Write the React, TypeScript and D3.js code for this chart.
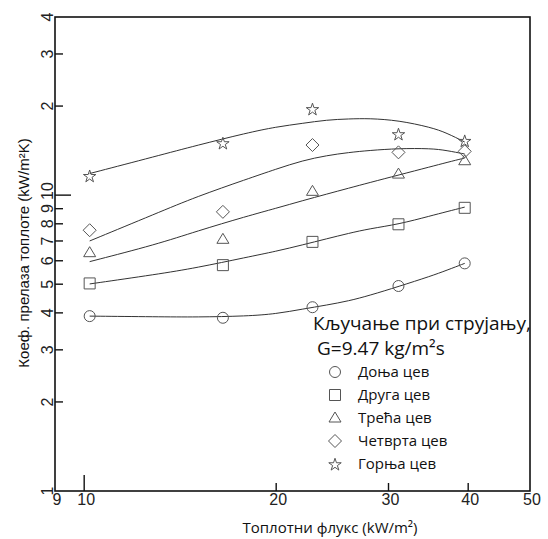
import React from "react";
import * as d3 from "d3";

// ---- data ----
const xFlux = [10.2, 16.5, 22.8, 31.1, 39.5];
const lowerTube = [3.9, 3.85, 4.18, 4.93, 5.88];
const secondTube = [5.03, 5.8, 6.95, 7.97, 9.06];
const thirdTube = [6.39, 7.09, 10.3, 11.78, 13.07];
const fourthTube = [7.61, 8.78, 14.77, 13.95, 14.06];
const upperTube = [11.63, 15.01, 19.57, 16.1, 15.28];

// fitted trend curves
const fitX = [10.2, 13, 15, 18, 20, 22, 24, 26, 28, 31.1, 35, 37, 39.5];
const lowerFit = [3.9, 3.88, 3.87, 3.9, 3.97, 4.12, 4.25, 4.39, 4.58, 4.91, 5.33, 5.57, 5.88];
const secondFit = [5.01, 5.4, 5.68, 6.17, 6.46, 6.79, 7.12, 7.43, 7.7, 7.97, 8.52, 8.79, 9.11];
const thirdFit = [5.96, 6.82, 7.55, 8.49, 9.03, 9.58, 10.08, 10.56, 11.02, 11.69, 12.49, 12.89, 13.35];
const fourthFit = [7.0, 8.69, 9.88, 11.33, 12.25, 13.09, 13.61, 13.94, 14.16, 14.38, 14.38, 14.16, 13.77];
const upperFit = [11.83, 13.56, 14.72, 16.23, 17.01, 17.48, 17.96, 18.1, 18.17, 17.89, 16.94, 16.23, 15.12];

const seriesNames = ["Доња цев", "Друга цев", "Трећа цев", "Четврта цев", "Горња цев"];
const seriesShapes = ["circle", "square", "triangle", "diamond", "star"];

const xTicks = [9, 10, 20, 30, 40, 50];
const xTickLabels = ["9", "10", "20", "30", "40", "50"];
const yTicks = [1, 2, 3, 4, 5, 6, 7, 8, 9, 10, 20, 30, 40];
const yTickLabels = ["1", "2", "3", "4", "5", "6", "7", "8", "9", "10", "2", "3", "4"];

const xTitle = "Топлотни флукс (kW/m²)";
const yTitle = "Коеф. прелаза топлоте (kW/m²K)";
const legendTitle1 = "Кључање при струјању,";
const legendTitle2 = "G=9.47 kg/m²s";

const pointSeries = [lowerTube, secondTube, thirdTube, fourthTube, upperTube];
const fitSeries = [lowerFit, secondFit, thirdFit, fourthFit, upperFit];

// ---- layout ----
const W = 548;
const H = 539;
const L = 55, R = 530, T = 17, B = 491;

const x = d3.scaleLog().domain([9, 50]).range([L, R]);
const y = d3.scaleLog().domain([1, 40]).range([B, T]);

function shapePath(shape: string, cx: number, cy: number): string {
  switch (shape) {
    case "circle": {
      const r = 5.5;
      return `M${cx + r},${cy} A${r},${r} 0 1,1 ${cx - r},${cy} A${r},${r} 0 1,1 ${cx + r},${cy} Z`;
    }
    case "square": {
      const s = 5.5;
      return `M${cx - s},${cy - s} H${cx + s} V${cy + s} H${cx - s} Z`;
    }
    case "triangle": {
      const w = 6, h = 10;
      return `M${cx},${cy - h * 0.6} L${cx + w},${cy + h * 0.4} L${cx - w},${cy + h * 0.4} Z`;
    }
    default: {
      const r = 6.5;
      return `M${cx},${cy - r} L${cx + r},${cy} L${cx},${cy + r} L${cx - r},${cy} Z`;
    }
  }
}

function Marker({ shape, cx, cy }: { shape: string; cx: number; cy: number }) {
  if (shape === "star") {
    const sym = d3.symbol().type(d3.symbolStar).size(48)() || "";
    return (
      <path d={sym} transform={`translate(${cx},${cy + 0.8})`} fill="none" stroke="#555" strokeWidth={1} />
    );
  }
  return <path d={shapePath(shape, cx, cy)} fill="none" stroke="#555" strokeWidth={1} />;
}

export default function App() {
  const line = d3
    .line<number>()
    .x((_, i) => x(fitX[i]))
    .y((v) => y(v))
    .curve(d3.curveBasis);

  const fontNum = "'Liberation Sans', Arial, sans-serif";
  const fontTxt = "'Open Sans', 'Noto Sans', sans-serif";

  return (
    <svg
      width={W}
      height={H}
      style={{ position: "absolute", left: 0, top: 0, display: "block", background: "#fff" }}
    >
      {/* fit curves */}
      {fitSeries.map((s, i) => (
        <path key={"f" + i} d={line(s) || ""} fill="none" stroke="#333" strokeWidth={1} />
      ))}
      {/* points */}
      {pointSeries.map((s, i) =>
        s.map((v, j) => (
          <Marker key={`m${i}-${j}`} shape={seriesShapes[i]} cx={x(xFlux[j])} cy={y(v)} />
        ))
      )}

      {/* frame */}
      <rect x={L} y={T} width={R - L} height={B - T} fill="none" stroke="#111" strokeWidth={1.6} />

      {/* x ticks */}
      {xTicks.map((t, i) => {
        const major = t === 10;
        return (
          <g key={"xt" + i}>
            {t > 9 && t < 50 && (
              <line x1={x(t)} x2={x(t)} y1={B} y2={B - (major ? 16 : 8)} stroke="#111" strokeWidth={1.4} />
            )}
            <text
              x={x(t) + 2}
              y={505}
              textAnchor="middle"
              fontFamily={fontNum}
              fontSize={16}
              fill="#222"
            >
              {xTickLabels[i]}
            </text>
          </g>
        );
      })}

      {/* y ticks */}
      {yTicks.map((t, i) => {
        const major = t === 10;
        const off = t === 10 ? -4 : 0;
        return (
          <g key={"yt" + i}>
            {t > 1 && t < 40 && (
              <line x1={L} x2={L + (major ? 16 : 8)} y1={y(t)} y2={y(t)} stroke="#111" strokeWidth={1.4} />
            )}
            <text
              transform={`translate(53,${y(t) + off}) rotate(-90)`}
              textAnchor="middle"
              fontFamily={fontNum}
              fontSize={16}
              fill="#222"
            >
              {yTickLabels[i]}
            </text>
          </g>
        );
      })}

      {/* axis titles */}
      <text x={330} y={533} textAnchor="middle" fontFamily={fontTxt} fontSize={15} fill="#111">
        {xTitle}
      </text>
      <text
        transform={`translate(29,253) rotate(-90)`}
        textAnchor="middle"
        fontFamily={fontNum}
        fontSize={15}
        fill="#111"
      >
        {yTitle}
      </text>

      {/* legend */}
      <text x={313} y={330} fontFamily={fontTxt} fontSize={19} fill="#111">
        {legendTitle1}
      </text>
      <text x={317} y={355} fontFamily={fontTxt} fontSize={19} fill="#111">
        {legendTitle2}
      </text>
      {seriesNames.map((n, i) => {
        const cy = 372 + i * 23;
        return (
          <g key={"lg" + i}>
            <Marker shape={seriesShapes[i]} cx={335} cy={cy} />
            <text x={358} y={cy + 5} fontFamily={fontTxt} fontSize={15} fill="#111">
              {n}
            </text>
          </g>
        );
      })}
    </svg>
  );
}
